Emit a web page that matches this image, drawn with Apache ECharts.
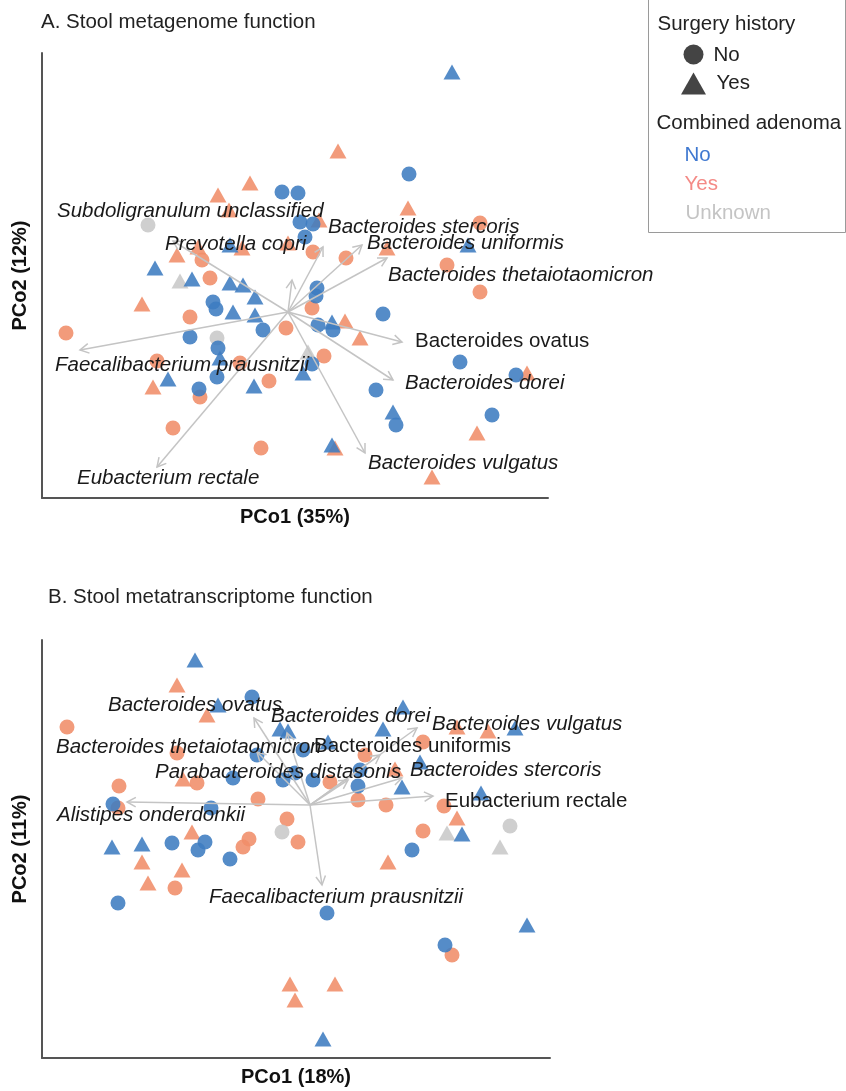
<!DOCTYPE html>
<html>
<head>
<meta charset="utf-8">
<script src="https://cdn.jsdelivr.net/npm/echarts@6/dist/echarts.min.js"></script>
<style>
  html, body { margin: 0; padding: 0; background: #fff; }
  #chart { width: 846px; height: 1091px; }
</style>
</head>
<body>
<div id="chart"></div>
<script>
// ---------- A. Stool metagenome function (PCo1 35%, PCo2 12%) ----------
const mgxNoSurgeryAdenomaNo = [[1.21,1.38],[-0.06,1.20],[0.10,1.19],[0.12,0.90],[0.25,0.88],[0.17,0.75],[0.29,0.24],[0.28,0.16],[-0.75,0.10],[-0.72,0.03],[-0.25,-0.18],[0.30,-0.13],[0.45,-0.18],[0.95,-0.02],[-0.98,-0.25],[-0.70,-0.36],[0.24,-0.52],[-0.71,-0.65],[-0.89,-0.77],[0.88,-0.78],[1.08,-1.13],[1.72,-0.50],[2.28,-0.63],[2.04,-1.03]];
const mgxSurgeryAdenomaNo = [[1.64,2.40],[1.80,0.67],[-0.58,0.67],[-1.33,0.44],[-0.96,0.33],[-0.58,0.29],[-0.45,0.27],[-0.33,0.15],[-0.55,0.00],[-0.33,-0.03],[0.44,-0.10],[-0.68,-0.46],[-1.20,-0.67],[-0.34,-0.74],[0.15,-0.61],[1.05,-1.00],[0.44,-1.33]];
const mgxNoSurgeryAdenomaYes = [[1.92,0.89],[1.59,0.47],[1.92,0.20],[0.25,0.60],[0.58,0.54],[-0.86,0.52],[-0.78,0.34],[-0.98,-0.05],[-0.02,-0.16],[0.24,0.04],[-2.22,-0.21],[-1.31,-0.49],[-0.48,-0.51],[-0.19,-0.69],[-0.88,-0.85],[-1.15,-1.16],[-0.27,-1.36],[0.36,-0.44]];
const mgxSurgeryAdenomaYes = [[0.50,1.61],[-0.70,1.17],[-0.38,1.29],[-0.59,1.02],[0.31,0.92],[0.00,0.69],[-0.90,0.65],[-0.46,0.64],[-1.11,0.57],[0.99,0.64],[1.20,1.04],[-1.46,0.08],[0.57,-0.09],[0.72,-0.26],[-1.35,-0.75],[2.39,-0.61],[1.89,-1.21],[0.47,-1.36],[1.44,-1.65]];
const mgxNoSurgeryAdenomaUnknown = [[-1.40,0.87],[-0.71,-0.26]];
const mgxSurgeryAdenomaUnknown = [[-1.08,0.31],[0.20,-0.40]];

const mgxTaxa = ['Subdoligranulum unclassified','Prevotella copri','Bacteroides stercoris','Bacteroides uniformis','Bacteroides thetaiotaomicron','Bacteroides ovatus','Bacteroides dorei','Bacteroides vulgatus','Faecalibacterium prausnitzii','Eubacterium rectale'];
const mgxLoadings = [[-1.15,0.71],[0.04,0.32],[0.35,0.65],[0.74,0.67],[0.99,0.54],[1.14,-0.30],[1.05,-0.68],[0.77,-1.41],[-2.08,-0.38],[-1.31,-1.55]];

// ---------- B. Stool metatranscriptome function (PCo1 18%, PCo2 11%) ----------
const mtxNoSurgeryAdenomaNo = [[-0.58,1.08],[-0.07,0.55],[-0.53,0.50],[-0.77,0.27],[-0.27,0.25],[-0.15,0.32],[0.03,0.25],[-1.97,0.01],[-0.99,-0.03],[-1.38,-0.38],[-1.05,-0.37],[-1.12,-0.45],[-0.80,-0.54],[-1.92,-0.98],[0.17,-1.08],[0.50,0.35],[0.48,0.19],[1.02,-0.45],[1.35,-1.40]];
const mtxSurgeryAdenomaNo = [[-1.15,1.45],[-0.92,1.00],[-0.30,0.76],[-0.22,0.74],[0.93,0.98],[0.73,0.76],[0.18,0.63],[2.05,0.77],[1.10,0.43],[0.92,0.18],[1.71,0.12],[1.52,-0.29],[-1.98,-0.42],[-1.68,-0.39],[2.17,-1.20],[0.13,-2.34]];
const mtxNoSurgeryAdenomaYes = [[-2.43,0.78],[-1.33,0.52],[-1.91,0.19],[-1.13,0.22],[-0.52,0.06],[-1.92,-0.03],[-0.23,-0.14],[-0.12,-0.37],[-0.61,-0.34],[-0.67,-0.42],[-1.35,-0.83],[0.20,0.23],[1.13,0.63],[0.55,0.50],[0.76,0.00],[0.48,0.05],[1.34,-0.01],[1.13,-0.26],[1.42,-1.50]];
const mtxSurgeryAdenomaYes = [[-1.33,1.20],[-1.03,0.90],[-1.27,0.26],[-1.18,-0.27],[-1.68,-0.57],[-1.28,-0.65],[-1.62,-0.78],[0.85,0.36],[1.47,0.78],[1.78,0.74],[1.47,-0.13],[0.78,-0.57],[-0.20,-1.79],[0.25,-1.79],[-0.15,-1.95]];
const mtxNoSurgeryAdenomaUnknown = [[-0.28,-0.27],[2.00,-0.21]];
const mtxSurgeryAdenomaUnknown = [[1.37,-0.28],[1.90,-0.42]];

const mtxTaxa = ['Bacteroides ovatus','Bacteroides dorei','Bacteroides vulgatus','Bacteroides thetaiotaomicron','Bacteroides uniformis','Parabacteroides distasonis','Bacteroides stercoris','Eubacterium rectale','Alistipes onderdonkii','Faecalibacterium prausnitzii'];
const mtxLoadings = [[-0.56,0.87],[-0.23,0.72],[1.07,0.77],[-0.53,0.53],[0.70,0.50],[0.38,0.25],[0.92,0.27],[1.23,0.09],[-1.83,0.03],[0.12,-0.80]];

// ---------- layout (anchors of the taxon labels, in score units) ----------
const mgxLabelAt = [[-2.31,1.01],[-1.23,0.68],[0.40,0.85],[0.79,0.69],[1.00,0.37],[1.27,-0.29],[1.17,-0.71],[0.80,-1.51],[-2.33,-0.53],[-2.11,-1.66]];
const mgxUpright = ['Bacteroides ovatus'];
const mtxLabelAt = [[-2.02,1.00],[-0.39,0.89],[1.22,0.81],[-2.54,0.58],[0.04,0.59],[-1.55,0.33],[1.00,0.35],[1.35,0.04],[-2.53,-0.10],[-1.01,-0.92]];
const mtxUpright = ['Bacteroides uniformis','Eubacterium rectale'];

const FONT = '"Liberation Sans", Arial, Helvetica, sans-serif';
const COLORS = { No: '#3d7cc0', Yes: '#f08d69', Unknown: '#c8c8c8' };
const ARROW = '#c4c4c4';

function scatter(idx, data, shape, color) {
  const isTri = shape === 'triangle';
  return {
    type: 'scatter', xAxisIndex: idx, yAxisIndex: idx, data: data,
    symbol: shape, symbolSize: isTri ? [17, 15] : 15,
    itemStyle: { color: color, opacity: 0.88 },
    z: 2, silent: true
  };
}

function arrows(idx, loadings) {
  return {
    type: 'custom', xAxisIndex: idx, yAxisIndex: idx, data: loadings, z: 3, silent: true,
    renderItem: function (params, api) {
      const o = api.coord([0, 0]);
      const t = api.coord([api.value(0), api.value(1)]);
      const ang = Math.atan2(t[1] - o[1], t[0] - o[0]);
      const L = 10, spread = 0.5;
      const h1 = [t[0] - L * Math.cos(ang - spread), t[1] - L * Math.sin(ang - spread)];
      const h2 = [t[0] - L * Math.cos(ang + spread), t[1] - L * Math.sin(ang + spread)];
      const st = { stroke: ARROW, lineWidth: 1.5, fill: null };
      return { type: 'group', children: [
        { type: 'polyline', shape: { points: [o, t] }, style: st },
        { type: 'polyline', shape: { points: [h1, t, h2] }, style: st }
      ]};
    }
  };
}

function taxonLabels(idx, names, anchors, upright) {
  return {
    type: 'custom', xAxisIndex: idx, yAxisIndex: idx, data: anchors, z: 4, silent: true, clip: false,
    renderItem: function (params, api) {
      const p = api.coord([api.value(0), api.value(1)]);
      const name = names[params.dataIndex];
      return {
        type: 'text', x: p[0], y: p[1],
        style: {
          text: name, fill: '#1a1a1a',
          font: (upright.indexOf(name) >= 0 ? 'normal' : 'italic') + ' 20.5px ' + FONT,
          align: 'left', verticalAlign: 'middle'
        }
      };
    }
  };
}

function axisPair(idx, name1, name2, xr, yr) {
  const line = { show: true, onZero: false, lineStyle: { color: '#555', width: 2 } };
  const nameStyle = { fontFamily: FONT, fontWeight: 'bold', fontSize: 20, color: '#111' };
  return {
    x: { type: 'value', gridIndex: idx, min: xr[0], max: xr[1], name: name1, nameLocation: 'middle', nameGap: 9,
         nameTextStyle: nameStyle, axisLine: line, axisTick: { show: false }, axisLabel: { show: false }, splitLine: { show: false } },
    y: { type: 'value', gridIndex: idx, min: yr[0], max: yr[1], name: name2, nameLocation: 'middle', nameGap: 12,
         nameTextStyle: nameStyle, axisLine: line, axisTick: { show: false }, axisLabel: { show: false }, splitLine: { show: false } }
  };
}

const axA = axisPair(0, 'PCo1 (35%)', 'PCo2 (12%)', [-2.46, 2.60], [-1.86, 2.59]);
const axB = axisPair(1, 'PCo1 (18%)', 'PCo2 (11%)', [-2.68, 2.40], [-2.53, 1.65]);

const legendText = (x, y, text, color, size) => ({
  type: 'text', x: x, y: y,
  style: { text: text, fill: color, font: size + 'px ' + FONT, align: 'left', verticalAlign: 'middle' }
});

const option = {
  animation: false,
  backgroundColor: '#fff',
  title: [
    { text: 'A. Stool metagenome function', left: 36, top: 7,
      textStyle: { fontFamily: FONT, fontWeight: 'normal', fontSize: 20.5, color: '#222' } },
    { text: 'B. Stool metatranscriptome function', left: 43, top: 582,
      textStyle: { fontFamily: FONT, fontWeight: 'normal', fontSize: 20.5, color: '#222' } }
  ],
  grid: [
    { left: 42, top: 53, width: 506, height: 445 },
    { left: 42, top: 640, width: 508, height: 418 }
  ],
  xAxis: [axA.x, axB.x],
  yAxis: [axA.y, axB.y],
  series: [
    scatter(0, mgxNoSurgeryAdenomaYes, 'circle', COLORS.Yes),
    scatter(0, mgxSurgeryAdenomaYes, 'triangle', COLORS.Yes),
    scatter(0, mgxNoSurgeryAdenomaUnknown, 'circle', COLORS.Unknown),
    scatter(0, mgxSurgeryAdenomaUnknown, 'triangle', COLORS.Unknown),
    scatter(0, mgxNoSurgeryAdenomaNo, 'circle', COLORS.No),
    scatter(0, mgxSurgeryAdenomaNo, 'triangle', COLORS.No),
    arrows(0, mgxLoadings),
    taxonLabels(0, mgxTaxa, mgxLabelAt, mgxUpright),

    scatter(1, mtxNoSurgeryAdenomaYes, 'circle', COLORS.Yes),
    scatter(1, mtxSurgeryAdenomaYes, 'triangle', COLORS.Yes),
    scatter(1, mtxNoSurgeryAdenomaUnknown, 'circle', COLORS.Unknown),
    scatter(1, mtxSurgeryAdenomaUnknown, 'triangle', COLORS.Unknown),
    scatter(1, mtxNoSurgeryAdenomaNo, 'circle', COLORS.No),
    scatter(1, mtxSurgeryAdenomaNo, 'triangle', COLORS.No),
    arrows(1, mtxLoadings),
    taxonLabels(1, mtxTaxa, mtxLabelAt, mtxUpright)
  ],
  graphic: [{
    type: 'group', left: 648, top: -1,
    children: [
      { type: 'rect', shape: { x: 0, y: 0, width: 197, height: 233 },
        style: { fill: '#fff', stroke: '#9a9a9a', lineWidth: 1 } },
      legendText(9, 25, 'Surgery history', '#222', 20.5),
      { type: 'circle', shape: { cx: 45, cy: 55, r: 10 }, style: { fill: '#444' } },
      legendText(65, 56, 'No', '#222', 20.5),
      { type: 'polygon', shape: { points: [[45, 73], [57.5, 95], [32.5, 95]] }, style: { fill: '#444' } },
      legendText(68, 84, 'Yes', '#222', 20.5),
      legendText(8, 124, 'Combined adenoma', '#222', 20.5),
      legendText(36, 156, 'No', '#3f78d0', 20.5),
      legendText(36, 185, 'Yes', '#f48a86', 20.5),
      legendText(37, 214, 'Unknown', '#c4c4c4', 20.5)
    ]
  }]
};

const chart = echarts.init(document.getElementById('chart'), null, { renderer: 'canvas' });
chart.setOption(option);
</script>
</body>
</html>
